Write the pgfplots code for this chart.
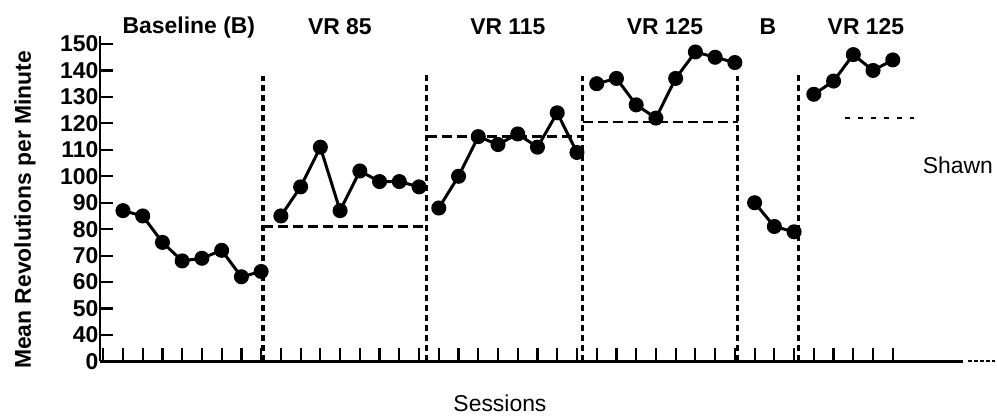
\documentclass[border=0pt]{standalone}
\usepackage{pgfplots}
\pgfplotsset{compat=1.18}
\usepackage{fontspec}
\setmainfont{Liberation Sans}

\begin{document}
\begin{tikzpicture}
\begin{axis}[
    x=19.74bp, y=2.645bp,
    xmin=-0.165, xmax=43.55,
    ymin=30, ymax=153,
    axis x line*=bottom, axis y line*=left,
    axis line style={line width=2.8bp, black},
    xtick={0,...,40}, xticklabels={},
    ytick={30,40,50,60,70,80,90,100,110,120,130,140,150},
    yticklabels={0,40,50,60,70,80,90,100,110,120,130,140,150},
    tick align=inside,
    major tick length=13bp,
    tick style={line width=2.2bp, black},
    yticklabel style={font=\fontsize{23}{23}\selectfont\bfseries, inner sep=1.5bp},
    clip=false,
]

% phase lines
\addplot[black, line width=3.2bp, dash pattern=on 6bp off 4bp] coordinates {(8.09,30) (8.09,138)};
\addplot[black, line width=3.2bp, dash pattern=on 6bp off 4bp] coordinates {(16.39,30) (16.39,139)};
\addplot[black, line width=3.2bp, dash pattern=on 6bp off 4bp] coordinates {(24.29,30) (24.29,138)};
\addplot[black, line width=3.2bp, dash pattern=on 6bp off 4bp] coordinates {(32.14,30) (32.14,138)};
\addplot[black, line width=3.2bp, dash pattern=on 6bp off 4bp] coordinates {(35.24,30) (35.24,139)};

% criterion lines
\addplot[black, line width=2.4bp, dash pattern=on 10bp off 5bp] coordinates {(8.09,81) (16.39,81)};
\addplot[black, line width=2.4bp, dash pattern=on 10bp off 5bp] coordinates {(16.39,115) (24.29,115)};
\addplot[black, line width=2.4bp, dash pattern=on 10bp off 5bp] coordinates {(24.29,120.6) (32.14,120.6)};
\addplot[black, line width=1.8bp, dash pattern=on 5bp off 8bp] coordinates {(37.6,122) (41.1,122)};

% axis tail
\addplot[black, line width=2bp, dash pattern=on 4bp off 2bp] coordinates {(43.8,30) (45.2,30)};

% Baseline (B)
\addplot[black, line width=3bp, mark=*, mark size=6bp] coordinates {
    (1,87) (2,85) (3,75) (4,68) (5,69) (6,72) (7,62) (8,64)
};
% VR 85
\addplot[black, line width=3bp, mark=*, mark size=6bp] coordinates {
    (9,85) (10,96) (11,111) (12,87) (13,102) (14,98) (15,98) (16,96)
};
% VR 115
\addplot[black, line width=3bp, mark=*, mark size=6bp] coordinates {
    (17,88) (18,100) (19,115) (20,112) (21,116) (22,111) (23,124) (24,109)
};
% VR 125
\addplot[black, line width=3bp, mark=*, mark size=6bp] coordinates {
    (25,135) (26,137) (27,127) (28,122) (29,137) (30,147) (31,145) (32,143)
};
% B
\addplot[black, line width=3bp, mark=*, mark size=6bp] coordinates {
    (33,90) (34,81) (35,79)
};
% VR 125
\addplot[black, line width=3bp, mark=*, mark size=6bp] coordinates {
    (36,131) (37,136) (38,146) (39,140) (40,144)
};

\node[font=\fontsize{23}{23}\selectfont\bfseries] at (axis cs:4.34,156.4) {Baseline (B)};
\node[font=\fontsize{23}{23}\selectfont\bfseries] at (axis cs:11.99,156.4) {VR 85};
\node[font=\fontsize{23}{23}\selectfont\bfseries] at (axis cs:20.5,156.4) {VR 115};
\node[font=\fontsize{23}{23}\selectfont\bfseries] at (axis cs:28.46,156.4) {VR 125};
\node[font=\fontsize{23}{23}\selectfont\bfseries] at (axis cs:33.67,156.4) {B};
\node[font=\fontsize{23}{23}\selectfont\bfseries] at (axis cs:38.64,156.4) {VR 125};
\node[font=\fontsize{23}{23}\selectfont] at (axis cs:43.3,104.3) {Shawn};
\node[font=\fontsize{23}{23}\selectfont] at (axis cs:20.1,14.3) {Sessions};
\node[font=\fontsize{23}{23}\selectfont\bfseries, rotate=90] at (axis cs:-3.96,87.3) {Mean Revolutions per Minute};

\coordinate (bbl) at (axis cs:-5.23,9.38);
\coordinate (btr) at (axis cs:45.28,166.65);
\end{axis}
\pgfresetboundingbox
\path[use as bounding box] (bbl) rectangle (btr);
\end{tikzpicture}
\end{document}
